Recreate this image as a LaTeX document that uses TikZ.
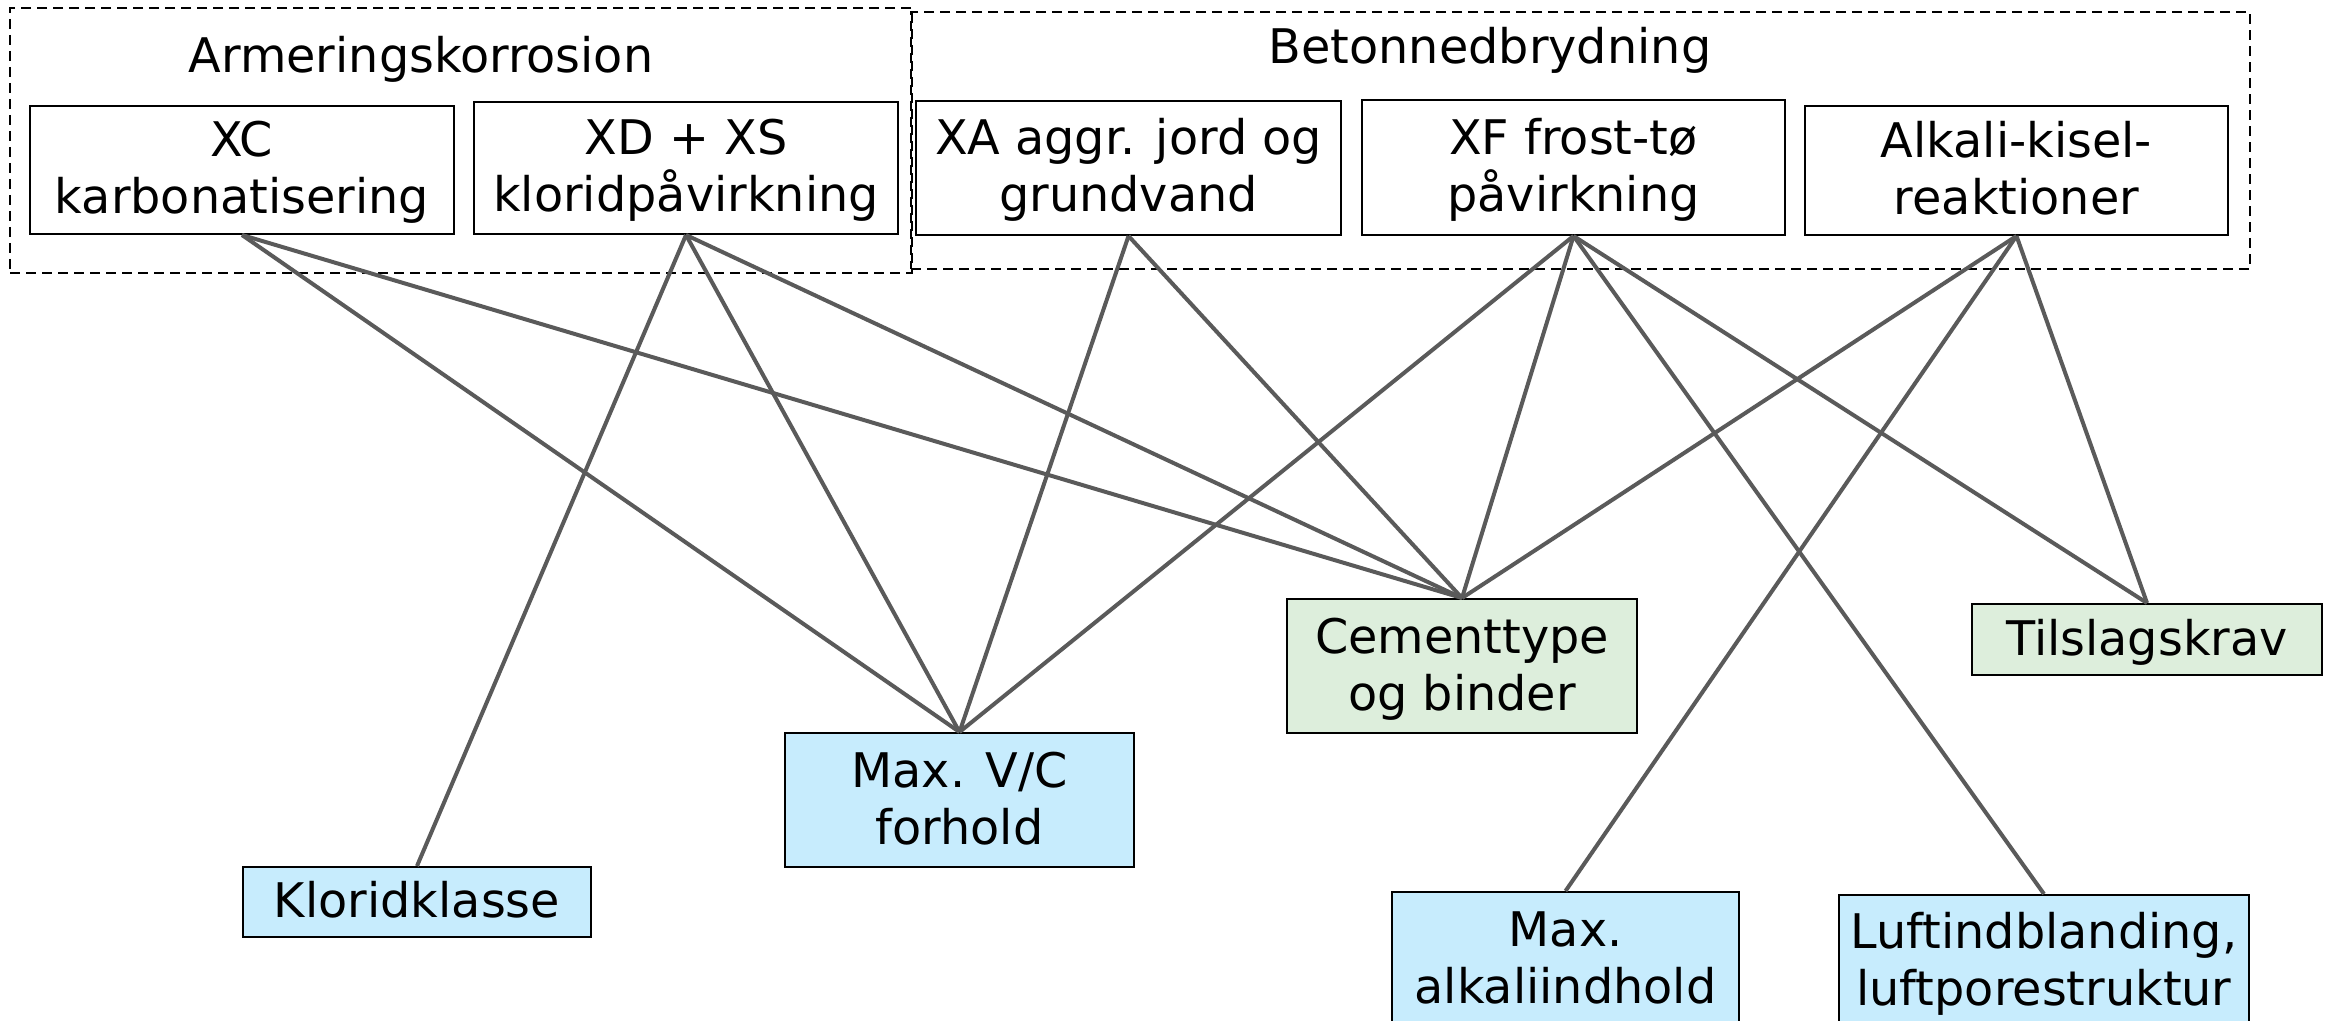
\documentclass[tikz,border=0pt]{standalone}
\usepackage{fontspec}
\setmainfont{DejaVu Sans}
\newcommand{\diagfont}{\fontsize{23.85}{28.5}\selectfont}
\newcommand{\lnstrut}{\rule[-6.5pt]{0pt}{28.5pt}}
\definecolor{boxblue}{HTML}{C7ECFD}
\definecolor{boxgreen}{HTML}{DDEEDC}
\definecolor{linegray}{HTML}{5A5A5A}
\begin{document}
\begin{tikzpicture}[x=0.5pt,y=-0.5pt,
  every node/.style={font=\diagfont},
  groupbox/.style={draw=black, line width=1pt, dash pattern=on 5pt off 3pt, inner sep=0pt},
  topbox/.style={draw=black, line width=1pt, fill=white, align=center, inner sep=0pt},
  bluebox/.style={topbox, fill=boxblue},
  greenbox/.style={topbox, fill=boxgreen},
  conn/.style={draw=linegray, line width=2pt}]
\useasboundingbox (0,0) rectangle (2333,1021);
% group frames
\node[groupbox, minimum width=451pt, minimum height=132.5pt] (g1) at (461,140.5) {};
\node[groupbox, minimum width=669.5pt, minimum height=128.5pt] (g2) at (1580.5,140.5) {};
\node[anchor=base] (t1) at (421,73) {Armeringskorrosion};
\node[anchor=base] (t2) at (1490,64) {Betonnedbrydning};
% top boxes
\node[topbox, minimum width=212pt, minimum height=64pt] (xc) at (242,170) {\lnstrut XC\\\lnstrut karbonatisering};
\node[topbox, minimum width=212pt, minimum height=66pt] (xd) at (686,168) {\lnstrut XD + XS\\\lnstrut kloridpåvirkning};
\node[topbox, minimum width=212.5pt, minimum height=67pt] (xa) at (1128.5,168) {\lnstrut XA aggr. jord og\\\lnstrut grundvand};
\node[topbox, minimum width=211.5pt, minimum height=67.5pt] (xf) at (1573.5,167.5) {\lnstrut XF frost-tø\\\lnstrut påvirkning};
\node[topbox, minimum width=211.5pt, minimum height=64.5pt] (alk) at (2016.5,170.5) {\lnstrut Alkali-kisel-\\\lnstrut reaktioner};
% bottom boxes
\node[greenbox, minimum width=175pt, minimum height=67pt] (cem) at (1462,666) {\lnstrut Cementtype\\\lnstrut og binder};
\node[greenbox, minimum width=175pt, minimum height=35.5pt] (til) at (2147,639.5) {\lnstrut Tilslagskrav};
\node[bluebox, minimum width=173.5pt, minimum height=67pt] (amax) at (1565.5,959) {\lnstrut Max.\\\lnstrut alkaliindhold};
\node[bluebox, minimum width=205pt, minimum height=66pt] (luft) at (2044,961) {\lnstrut Luftindblanding,\\\lnstrut luftporestruktur};
\node[bluebox, minimum width=174pt, minimum height=35pt] (klor) at (417,902) {\lnstrut Kloridklasse};
\node[bluebox, minimum width=174.5pt, minimum height=67pt] (vc) at (959.5,800) {\lnstrut Max. V/C\\\lnstrut forhold};
% connectors
\draw[conn] (xc.south) -- (vc.north);
\draw[conn] (xc.south) -- (cem.north);
\draw[conn] (xd.south) -- (klor.north);
\draw[conn] (xd.south) -- (vc.north);
\draw[conn] (xd.south) -- (cem.north);
\draw[conn] (xa.south) -- (vc.north);
\draw[conn] (xa.south) -- (cem.north);
\draw[conn] (xf.south) -- (vc.north);
\draw[conn] (xf.south) -- (cem.north);
\draw[conn] (xf.south) -- (luft.north);
\draw[conn] (xf.south) -- (til.north);
\draw[conn] (alk.south) -- (cem.north);
\draw[conn] (alk.south) -- (amax.north);
\draw[conn] (alk.south) -- (til.north);
\end{tikzpicture}
\end{document}
